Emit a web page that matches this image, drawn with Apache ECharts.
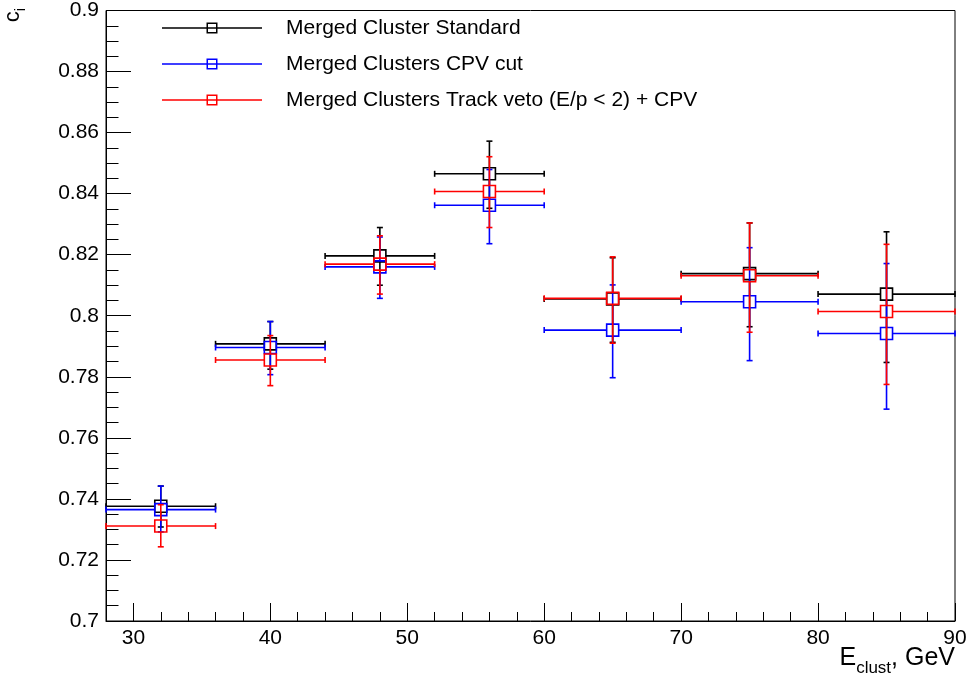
<!DOCTYPE html>
<html>
<head>
<meta charset="utf-8">
<script src="https://cdn.jsdelivr.net/npm/echarts@6/dist/echarts.min.js"></script>
<style>
html,body{margin:0;padding:0;background:#fff;}
#chart{width:971px;height:682px;}
</style>
</head>
<body>
<div id="chart"></div>
<script>
// ---- data ----
const xCenter = [32, 40, 48, 56, 65, 75, 85];
const xLow    = [28, 36, 44, 52, 60, 70, 80];
const xHigh   = [36, 44, 52, 60, 70, 80, 90];

const stdY    = [0.7376, 0.7908, 0.8196, 0.8465, 0.8055, 0.8138, 0.8071];
const stdYHi  = [0.7442, 0.7981, 0.8289, 0.8572, 0.8190, 0.8304, 0.8275];
const stdYLo  = [0.7308, 0.7825, 0.8100, 0.8352, 0.7913, 0.7964, 0.7847];

const cpvY    = [0.7365, 0.7896, 0.8160, 0.8362, 0.7953, 0.8046, 0.7942];
const cpvYHi  = [0.7442, 0.7981, 0.8258, 0.8479, 0.8101, 0.8223, 0.8171];
const cpvYLo  = [0.7292, 0.7807, 0.8057, 0.8236, 0.7797, 0.7853, 0.7694];

const trkY    = [0.7311, 0.7855, 0.8169, 0.8407, 0.8057, 0.8131, 0.8014];
const trkYHi  = [0.7381, 0.7935, 0.8262, 0.8521, 0.8193, 0.8304, 0.8234];
const trkYLo  = [0.7243, 0.7771, 0.8071, 0.8289, 0.7910, 0.7946, 0.7775];

const seriesNames = [
  'Merged Cluster Standard',
  'Merged Clusters CPV cut',
  'Merged Clusters Track veto (E/p < 2) + CPV'
];
const seriesColors = ['#000000', '#0000ff', '#ff0000'];

const xMajorTicks = [30, 40, 50, 60, 70, 80, 90];
const xMinorTicks = [28, 32, 34, 36, 38, 42, 44, 46, 48, 52, 54, 56, 58, 62, 64, 66, 68, 72, 74, 76, 78, 82, 84, 86, 88];

// ---- build ----
function build(y, lo, hi) {
  return xCenter.map((x, i) => [x, xLow[i], xHigh[i], y[i], lo[i], hi[i]]);
}
const datasets = [build(stdY, stdYLo, stdYHi), build(cpvY, cpvYLo, cpvYHi), build(trkY, trkYLo, trkYHi)];

function makeRender(color) {
  return function (params, api) {
    const x = api.value(0), y = api.value(3);
    const c = api.coord([x, y]);
    const l = api.coord([api.value(1), y])[0];
    const h = api.coord([api.value(2), y])[0];
    const lo = api.coord([x, api.value(4)])[1];
    const hi = api.coord([x, api.value(5)])[1];
    const s = 6, cap = 3;
    const st = { stroke: color, lineWidth: 1.6, fill: null };
    const ln = (x1, y1, x2, y2) => ({ type: 'line', shape: { x1, y1, x2, y2 }, style: st });
    return {
      type: 'group',
      children: [
        ln(l, c[1], c[0] - s, c[1]),
        ln(c[0] + s, c[1], h, c[1]),
        ln(c[0], hi, c[0], c[1] - s),
        ln(c[0], c[1] + s, c[0], lo),
        ln(l, c[1] - cap, l, c[1] + cap),
        ln(h, c[1] - cap, h, c[1] + cap),
        ln(c[0] - cap, hi, c[0] + cap, hi),
        ln(c[0] - cap, lo, c[0] + cap, lo),
        { type: 'rect', shape: { x: c[0] - s, y: c[1] - s, width: 2 * s, height: 2 * s }, style: st }
      ]
    };
  };
}

const legendIcon = 'path://M0,5.25L100,5.25L100,6.75L0,6.75Z M44.5,0.5L55.5,0.5L55.5,11.5L44.5,11.5Z M46,2L46,10L54,10L54,2Z';

const FONT = '"Liberation Sans", Arial, Helvetica, sans-serif';

const chart = echarts.init(document.getElementById('chart'), null, { renderer: 'canvas' });
chart.setOption({
  animation: false,
  backgroundColor: '#ffffff',
  textStyle: { fontFamily: FONT },
  grid: { left: 106, right: 16, top: 9, bottom: 61, show: true, borderColor: '#000', borderWidth: 1, backgroundColor: 'transparent' },
  legend: {
    left: 162, top: 17, orient: 'vertical', itemWidth: 100, itemHeight: 12, itemGap: 14, padding: 0,
    selectedMode: false,
    textStyle: { fontSize: 21, color: '#000', fontFamily: FONT, lineHeight: 22, padding: [0, 0, 0, 19] },
    data: seriesNames.map((n, i) => ({ name: n, icon: legendIcon, itemStyle: { color: seriesColors[i] } }))
  },
  xAxis: [
    {
      type: 'value', min: 28, max: 90, position: 'bottom',
      axisLine: { show: true, onZero: false, lineStyle: { color: '#000', width: 1 } },
      axisTick: { show: true, inside: true, length: 18, customValues: xMajorTicks, lineStyle: { color: '#000', width: 1 } },
      axisLabel: { customValues: xMajorTicks, color: '#000', fontSize: 21, fontFamily: FONT, margin: 7 },
      splitLine: { show: false }
    },
    {
      type: 'value', min: 28, max: 90, position: 'bottom',
      axisLine: { show: false },
      axisTick: { show: true, inside: true, length: 9, customValues: xMinorTicks, lineStyle: { color: '#000', width: 1 } },
      axisLabel: { show: false },
      splitLine: { show: false }
    }
  ],
  yAxis: {
    type: 'value', min: 0.7, max: 0.9, interval: 0.02,
    axisLine: { show: true, onZero: false, lineStyle: { color: '#000', width: 1 } },
    axisTick: { show: true, inside: true, length: 25, lineStyle: { color: '#000', width: 1 } },
    minorTick: { show: true, splitNumber: 4, length: 12.5, lineStyle: { color: '#000', width: 1 } },
    axisLabel: { color: '#000', fontSize: 21, fontFamily: FONT, margin: 7 },
    splitLine: { show: false }
  },
  graphic: [
    {
      type: 'text', right: 16, top: 646,
      style: {
        text: '{a|E}{b|clust}{a|, GeV}',
        fill: '#000',
        rich: {
          a: { fontSize: 25, fontFamily: FONT, fill: '#000', lineHeight: 36, verticalAlign: 'middle' },
          b: { fontSize: 17, fontFamily: FONT, fill: '#000', lineHeight: 36, verticalAlign: 'bottom' }
        }
      }
    },
    {
      type: 'text', x: -2, y: 8, rotation: Math.PI / 2,
      style: {
        text: '{a|c}{b|i}',
        align: 'right', verticalAlign: 'top',
        fill: '#000',
        rich: {
          a: { fontSize: 22, fontFamily: FONT, fill: '#000', lineHeight: 30, verticalAlign: 'middle' },
          b: { fontSize: 15, fontFamily: FONT, fill: '#000', lineHeight: 30, verticalAlign: 'bottom' }
        }
      }
    }
  ],
  series: datasets.map((d, i) => ({
    name: seriesNames[i],
    type: 'custom',
    xAxisIndex: 0,
    yAxisIndex: 0,
    itemStyle: { color: seriesColors[i] },
    encode: { x: 0, y: 3 },
    data: d,
    z: 10 + i,
    renderItem: makeRender(seriesColors[i])
  }))
});
</script>
</body>
</html>
